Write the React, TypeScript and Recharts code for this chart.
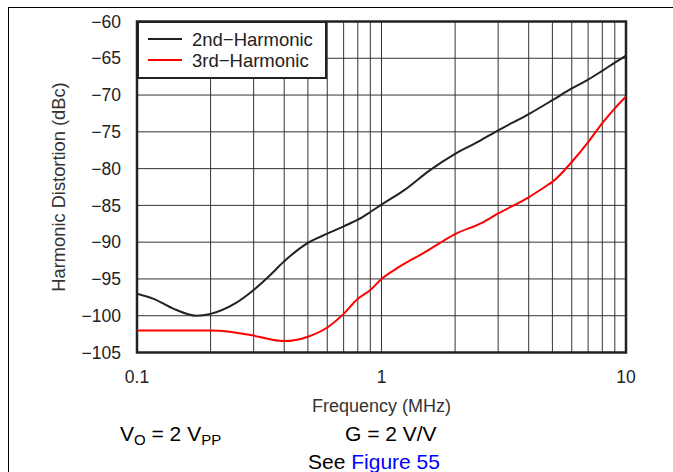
import React from 'react';
import { LineChart, Line, XAxis, YAxis, CartesianGrid, Legend, ReferenceArea } from 'recharts';

// frequency (MHz) and distortion (dBc)
const freq2nd = [0.1, 0.117, 0.14, 0.175, 0.2, 0.25, 0.3, 0.35, 0.4, 0.5, 0.6, 0.7, 0.8, 0.9, 1, 1.23, 1.58, 2, 2.5, 3, 4, 5, 6, 7, 8, 9, 10];
const hd2 = [-97, -97.7, -99, -100, -99.75, -98.4, -96.5, -94.5, -92.6, -90.1, -88.85, -87.85, -86.95, -85.9, -84.9, -83, -80.2, -78, -76.3, -74.8, -72.6, -70.7, -69.1, -67.9, -66.7, -65.6, -64.65];

const freq3rd = [0.1, 0.2, 0.3, 0.35, 0.4, 0.5, 0.6, 0.7, 0.8, 0.9, 1, 1.19, 1.5, 2, 2.6, 3, 4, 4.75, 5, 6, 7, 8, 9, 10];
const hd3 = [-102, -102, -102.7, -103.2, -103.45, -102.85, -101.6, -99.75, -97.7, -96.5, -95, -93.3, -91.4, -88.9, -87.3, -86.1, -83.9, -82.3, -81.8, -79.1, -76.4, -73.8, -71.8, -70.2];

const xTicks = [0.1, 0.2, 0.3, 0.4, 0.5, 0.6, 0.7, 0.8, 0.9, 1, 2, 3, 4, 5, 6, 7, 8, 9, 10];
const xLabelTicks = [0.1, 1, 10];
const yTicks = [-105, -100, -95, -90, -85, -80, -75, -70, -65, -60];

const series2 = freq2nd.map((f, i) => ({ f, v: hd2[i] }));
const series3 = freq3rd.map((f, i) => ({ f, v: hd3[i] }));

const FONT = '"Liberation Sans", Arial, Helvetica, sans-serif';
const minus = (n: number) => String(n).replace('-', '\u2212');

function LegendBox(props: any) {
  const items = props.payload || [];
  return (
    <div style={{
      boxSizing: 'border-box', width: 190, height: 58, background: '#fff',
      border: '2.5px solid #222', paddingTop: 5.5, fontFamily: FONT, fontSize: 18.5, color: '#222',
    }}>
      {items.map((it: any) => (
        <div key={it.value} style={{ display: 'flex', alignItems: 'center', height: 21, lineHeight: '21px' }}>
          <span style={{ display: 'inline-block', width: 34, height: 2.5, background: it.color, marginLeft: 9.5, marginRight: 10 }} />
          <span>{it.value}</span>
        </div>
      ))}
    </div>
  );
}

export default function App() {
  return (
    <div style={{ position: 'fixed', left: 0, top: 0, width: 673, height: 472, background: '#fff', fontFamily: FONT }}>
      <div style={{ position: 'absolute', left: 8, top: 7, right: 0, bottom: 0, borderTop: '1px solid #000', borderLeft: '1px solid #000' }} />
      <LineChart width={673} height={472} margin={{ top: 21.5, right: 47, bottom: 89.5, left: 0 }} style={{ position: 'absolute', left: 0, top: 0 }}>
        <CartesianGrid stroke="#333" strokeWidth={1} />
        <XAxis
          dataKey="f" type="number" scale="log" domain={[0.1, 10]} ticks={xTicks} interval={0}
          allowDataOverflow height={30} axisLine={false} tickLine={false} tickMargin={12}
          tickFormatter={(v: number) => (xLabelTicks.includes(v) ? String(v) : '')}
          tick={{ fill: '#222', fontSize: 17.5, fontFamily: FONT }}
          label={{ value: 'Frequency (MHz)', position: 'bottom', offset: 16.5, fill: '#333', fontSize: 18, fontFamily: FONT }}
        />
        <YAxis
          type="number" domain={[-105, -60]} ticks={yTicks} interval={0} width={137}
          axisLine={false} tickLine={false} tickMargin={10}
          tickFormatter={minus}
          tick={{ fill: '#222', fontSize: 17.5, fontFamily: FONT }}
          label={{ value: 'Harmonic Distortion (dBc)', angle: -90, position: 'insideLeft', offset: 59, textAnchor: 'middle', fill: '#333', fontSize: 18.3, fontFamily: FONT }}
        />
        <ReferenceArea x1={0.1} x2={10} y1={-105} y2={-60} fill="none" stroke="#222" strokeWidth={2.5} ifOverflow="visible" />
        <Line data={series2} type="monotone" dataKey="v" name={'2nd\u2212Harmonic'} stroke="#222" strokeWidth={2} dot={false} isAnimationActive={false} />
        <Line data={series3} type="monotone" dataKey="v" name={'3rd\u2212Harmonic'} stroke="#ff0000" strokeWidth={2} dot={false} isAnimationActive={false} />
        <Legend verticalAlign="middle" align="center" layout="horizontal" content={LegendBox}
          wrapperStyle={{ top: 21, left: 136.5, width: 190, height: 58 }} />
      </LineChart>
      <svg width={673} height={472} style={{ position: 'absolute', left: 0, top: 0, pointerEvents: 'none' }}>
        <text x={120} y={441} fontFamily={FONT} fontSize={21} fill="#000">
          V<tspan fontSize={15} dy={4}>O</tspan><tspan dy={-4}> = 2 V</tspan><tspan fontSize={15} dy={4}>PP</tspan>
        </text>
        <text x={345} y={441} fontFamily={FONT} fontSize={21} fill="#000">G = 2 V/V</text>
        <text x={308} y={469} fontFamily={FONT} fontSize={21} fill="#000">
          See <tspan fill="#0000ff">Figure 55</tspan>
        </text>
      </svg>
    </div>
  );
}
